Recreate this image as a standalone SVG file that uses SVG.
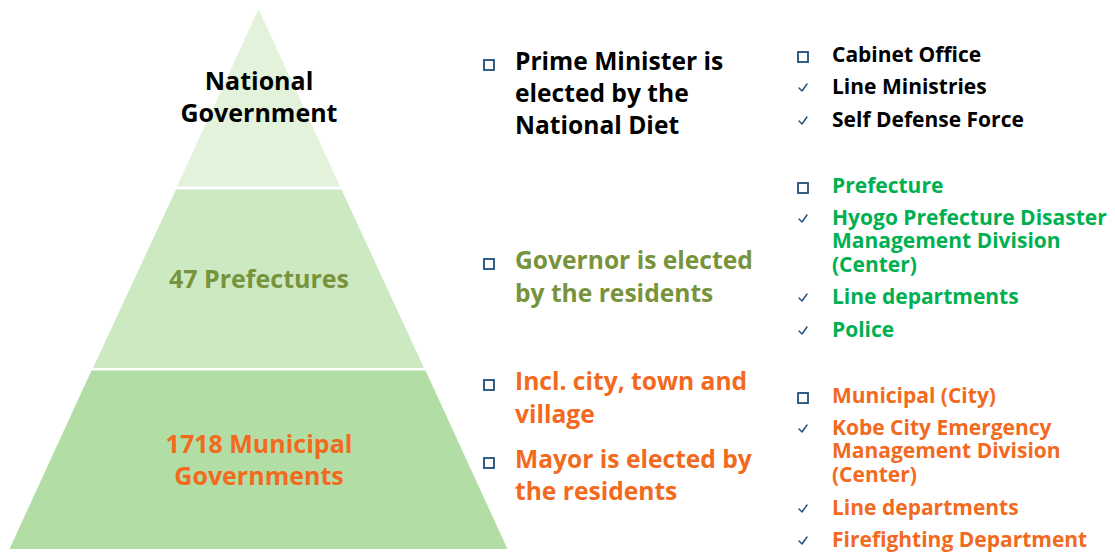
<svg xmlns="http://www.w3.org/2000/svg" xmlns:xlink="http://www.w3.org/1999/xlink" width="1115" height="552" viewBox="0 0 1115 552">
<style>
text{font-family:"Open Sans","Noto Sans","DejaVu Sans",sans-serif;font-weight:700}
.lbl{font-size:25px;text-anchor:middle}
.mid{font-size:24.6px}
.rt{font-size:21px}
.blk{fill:#000}
.olv{fill:#77933C}
.grn{fill:#00B050}
.org{fill:#F26A1E}
.sq{fill:#fff;stroke:#1F4E79;stroke-width:1.8}
.ck{fill:none;stroke:#1F4E79;stroke-width:1.4;stroke-linecap:round;stroke-linejoin:round}
</style>
<defs>
<rect id="box" x="-5" y="-5" width="10" height="10" class="sq"/>
<path id="chk" d="M-4 0 L-1 3 L4 -4" class="ck"/>
</defs>
<rect width="1115" height="552" fill="#fff"/>
<g id="tier-national">
<polygon points="258.5,9 340,186.5 177,186.5" fill="#E3F2DB"/>
<text class="lbl blk" x="259" y="90">National<tspan x="259" y="122">Government</tspan></text>
</g>
<g id="tier-prefectures">
<polygon points="176,189.5 341.5,189.5 424,368 93,368" fill="#CCE9C2"/>
<text class="lbl olv" x="259" y="288">47 Prefectures</text>
</g>
<g id="tier-municipal">
<polygon points="91.5,370.5 425.5,370.5 507.5,549 9.5,549" fill="#B2DDA4"/>
<text class="lbl org" x="259" y="453">1718 Municipal<tspan x="259" y="485">Governments</tspan></text>
</g>
<g id="connectors"></g>
<g id="desc-national">
<use xlink:href="#box" x="489" y="65"/>
<text class="mid blk" x="515" y="70">Prime Minister is<tspan x="515" y="102">elected by the</tspan><tspan x="515" y="134">National Diet</tspan></text>
</g>
<g id="desc-prefectures">
<use xlink:href="#box" x="489" y="264"/>
<text class="mid olv" x="515" y="269">Governor is elected<tspan x="515" y="302">by the residents</tspan></text>
</g>
<g id="desc-municipal">
<use xlink:href="#box" x="489" y="385"/>
<text class="mid org" x="515" y="390">Incl. city, town and<tspan x="515" y="423">village</tspan></text>
<use xlink:href="#box" x="489" y="463"/>
<text class="mid org" x="515" y="468">Mayor is elected by<tspan x="515" y="500">the residents</tspan></text>
</g>
<g id="list-national">
<use xlink:href="#box" x="803" y="57"/>
<text class="rt blk" x="832" y="62">Cabinet Office</text>
<use xlink:href="#chk" x="803" y="88"/>
<text class="rt blk" x="832" y="94">Line Ministries</text>
<use xlink:href="#chk" x="803" y="121"/>
<text class="rt blk" x="832" y="127">Self Defense Force</text>
</g>
<g id="list-prefectures">
<use xlink:href="#box" x="803" y="188"/>
<text class="rt grn" x="832" y="193">Prefecture</text>
<use xlink:href="#chk" x="803" y="219"/>
<text class="rt grn" x="832" y="225">Hyogo Prefecture Disaster<tspan x="832" y="248">Management Division</tspan><tspan x="832" y="272">(Center)</tspan></text>
<use xlink:href="#chk" x="803" y="298"/>
<text class="rt grn" x="832" y="304">Line departments</text>
<use xlink:href="#chk" x="803" y="331"/>
<text class="rt grn" x="832" y="337">Police</text>
</g>
<g id="list-municipal">
<use xlink:href="#box" x="803" y="398"/>
<text class="rt org" x="832" y="403">Municipal (City)</text>
<use xlink:href="#chk" x="803" y="429"/>
<text class="rt org" x="832" y="435">Kobe City Emergency<tspan x="832" y="458">Management Division</tspan><tspan x="832" y="482">(Center)</tspan></text>
<use xlink:href="#chk" x="803" y="509"/>
<text class="rt org" x="832" y="515">Line departments</text>
<use xlink:href="#chk" x="803" y="541"/>
<text class="rt org" x="832" y="547">Firefighting Department</text>
</g>
</svg>
